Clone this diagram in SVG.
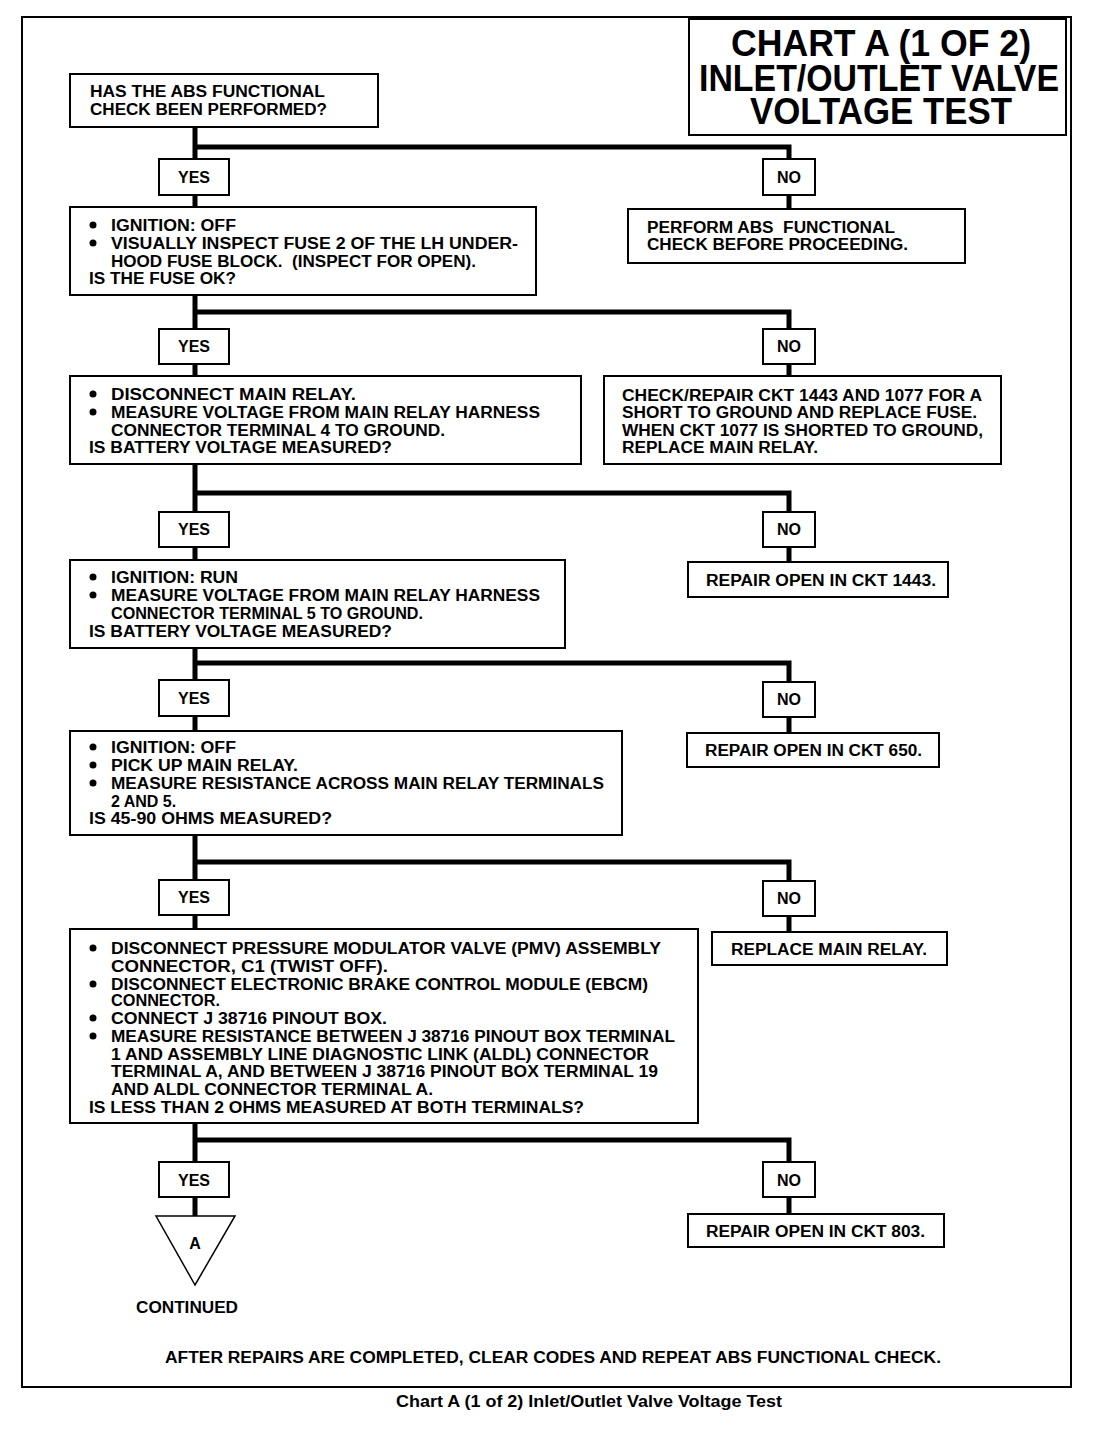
<svg xmlns="http://www.w3.org/2000/svg" width="1104" height="1440" viewBox="0 0 1104 1440">
<style>
.bg{fill:#fff}
.frame{fill:none;stroke:#000;stroke-width:2}
.box{fill:#fff;stroke:#000;stroke-width:2}
.wire{fill:none;stroke:#000;stroke-width:5}
.t{font-family:"Liberation Sans",Arial,sans-serif;font-weight:bold;font-size:16px;fill:#000}
.c{text-anchor:middle}
.title{font-family:"Liberation Sans",Arial,sans-serif;font-weight:bold;font-size:36px;fill:#000;text-anchor:middle}
.dot{fill:#000}
</style>
<rect class="bg" x="0" y="0" width="1104" height="1440"/>
<rect class="frame" x="22" y="17" width="1049" height="1370"/>
<g id="title">
<rect class="box" x="689" y="19" width="377" height="116"/>
<text class="title" x="881" y="56" textLength="300" lengthAdjust="spacingAndGlyphs">CHART A (1 OF 2)</text>
<text class="title" x="879" y="91" textLength="360" lengthAdjust="spacingAndGlyphs">INLET/OUTLET VALVE</text>
<text class="title" x="881" y="124" textLength="262" lengthAdjust="spacingAndGlyphs">VOLTAGE TEST</text>
</g>
<g id="connectors">
<line class="wire" x1="195" y1="127" x2="195" y2="1216"/>
<polyline class="wire" points="195,147 789,147 789,209"/>
<polyline class="wire" points="195,312 789,312 789,376"/>
<polyline class="wire" points="195,493 789,493 789,562"/>
<polyline class="wire" points="195,663 789,663 789,733"/>
<polyline class="wire" points="195,862 789,862 789,932"/>
<polyline class="wire" points="195,1140 789,1140 789,1214"/>
</g>
<g id="q1">
<rect class="box" x="70" y="74" width="308" height="53"/>
<text class="t" x="90" y="97" textLength="235" lengthAdjust="spacingAndGlyphs">HAS THE ABS FUNCTIONAL</text>
<text class="t" x="90" y="115" textLength="237" lengthAdjust="spacingAndGlyphs">CHECK BEEN PERFORMED?</text>
</g>
<g id="yes1"><rect class="box" x="159" y="159" width="70" height="36"/><text class="t c" x="194" y="183">YES</text></g>
<g id="no1"><rect class="box" x="763" y="159" width="52" height="36"/><text class="t c" x="789" y="183">NO</text></g>
<g id="q2">
<rect class="box" x="70" y="207" width="466" height="88"/>
<circle class="dot" cx="93" cy="225" r="3.5"/><circle class="dot" cx="93" cy="243" r="3.5"/>
<text class="t" x="111" y="231" textLength="125" lengthAdjust="spacingAndGlyphs">IGNITION: OFF</text>
<text class="t" x="111" y="249" textLength="407" lengthAdjust="spacingAndGlyphs">VISUALLY INSPECT FUSE 2 OF THE LH UNDER-</text>
<text class="t" x="111" y="267" textLength="365" lengthAdjust="spacingAndGlyphs" xml:space="preserve">HOOD FUSE BLOCK.  (INSPECT FOR OPEN).</text>
<text class="t" x="89" y="284" textLength="147" lengthAdjust="spacingAndGlyphs">IS THE FUSE OK?</text>
</g>
<g id="r1">
<rect class="box" x="628" y="209" width="337" height="54"/>
<text class="t" x="647" y="233" textLength="248" lengthAdjust="spacingAndGlyphs" xml:space="preserve">PERFORM ABS  FUNCTIONAL</text>
<text class="t" x="647" y="250" textLength="261" lengthAdjust="spacingAndGlyphs">CHECK BEFORE PROCEEDING.</text>
</g>
<g id="yes2"><rect class="box" x="159" y="329" width="70" height="35"/><text class="t c" x="194" y="352">YES</text></g>
<g id="no2"><rect class="box" x="763" y="329" width="52" height="35"/><text class="t c" x="789" y="352">NO</text></g>
<g id="q3">
<rect class="box" x="70" y="376" width="511" height="88"/>
<circle class="dot" cx="93" cy="394" r="3.5"/><circle class="dot" cx="93" cy="412" r="3.5"/>
<text class="t" x="111" y="400" textLength="245" lengthAdjust="spacingAndGlyphs">DISCONNECT MAIN RELAY.</text>
<text class="t" x="111" y="418" textLength="429" lengthAdjust="spacingAndGlyphs">MEASURE VOLTAGE FROM MAIN RELAY HARNESS</text>
<text class="t" x="111" y="436" textLength="334" lengthAdjust="spacingAndGlyphs">CONNECTOR TERMINAL 4 TO GROUND.</text>
<text class="t" x="89" y="453" textLength="303" lengthAdjust="spacingAndGlyphs">IS BATTERY VOLTAGE MEASURED?</text>
</g>
<g id="r2">
<rect class="box" x="604" y="376" width="397" height="88"/>
<text class="t" x="622" y="401" textLength="360" lengthAdjust="spacingAndGlyphs">CHECK/REPAIR CKT 1443 AND 1077 FOR A</text>
<text class="t" x="622" y="418" textLength="355" lengthAdjust="spacingAndGlyphs">SHORT TO GROUND AND REPLACE FUSE.</text>
<text class="t" x="622" y="436" textLength="361" lengthAdjust="spacingAndGlyphs">WHEN CKT 1077 IS SHORTED TO GROUND,</text>
<text class="t" x="622" y="453" textLength="196" lengthAdjust="spacingAndGlyphs">REPLACE MAIN RELAY.</text>
</g>
<g id="yes3"><rect class="box" x="159" y="512" width="70" height="35"/><text class="t c" x="194" y="535">YES</text></g>
<g id="no3"><rect class="box" x="763" y="512" width="52" height="35"/><text class="t c" x="789" y="535">NO</text></g>
<g id="q4">
<rect class="box" x="70" y="560" width="495" height="88"/>
<circle class="dot" cx="93" cy="577" r="3.5"/><circle class="dot" cx="93" cy="595" r="3.5"/>
<text class="t" x="111" y="583" textLength="127" lengthAdjust="spacingAndGlyphs">IGNITION: RUN</text>
<text class="t" x="111" y="601" textLength="429" lengthAdjust="spacingAndGlyphs">MEASURE VOLTAGE FROM MAIN RELAY HARNESS</text>
<text class="t" x="111" y="619" textLength="312" lengthAdjust="spacingAndGlyphs">CONNECTOR TERMINAL 5 TO GROUND.</text>
<text class="t" x="89" y="637" textLength="303" lengthAdjust="spacingAndGlyphs">IS BATTERY VOLTAGE MEASURED?</text>
</g>
<g id="r3">
<rect class="box" x="688" y="562" width="260" height="35"/>
<text class="t" x="706" y="586" textLength="230" lengthAdjust="spacingAndGlyphs">REPAIR OPEN IN CKT 1443.</text>
</g>
<g id="yes4"><rect class="box" x="159" y="680" width="70" height="36"/><text class="t c" x="194" y="704">YES</text></g>
<g id="no4"><rect class="box" x="763" y="682" width="52" height="35"/><text class="t c" x="789" y="705">NO</text></g>
<g id="q5">
<rect class="box" x="70" y="731" width="552" height="104"/>
<circle class="dot" cx="93" cy="747" r="3.5"/><circle class="dot" cx="93" cy="765" r="3.5"/><circle class="dot" cx="93" cy="783" r="3.5"/>
<text class="t" x="111" y="753" textLength="125" lengthAdjust="spacingAndGlyphs">IGNITION: OFF</text>
<text class="t" x="111" y="771" textLength="187" lengthAdjust="spacingAndGlyphs">PICK UP MAIN RELAY.</text>
<text class="t" x="111" y="789" textLength="493" lengthAdjust="spacingAndGlyphs">MEASURE RESISTANCE ACROSS MAIN RELAY TERMINALS</text>
<text class="t" x="111" y="807">2 AND 5.</text>
<text class="t" x="89" y="824" textLength="243" lengthAdjust="spacingAndGlyphs">IS 45-90 OHMS MEASURED?</text>
</g>
<g id="r4">
<rect class="box" x="687" y="733" width="252" height="34"/>
<text class="t" x="705" y="756" textLength="217" lengthAdjust="spacingAndGlyphs">REPAIR OPEN IN CKT 650.</text>
</g>
<g id="yes5"><rect class="box" x="159" y="880" width="70" height="35"/><text class="t c" x="194" y="903">YES</text></g>
<g id="no5"><rect class="box" x="763" y="881" width="52" height="35"/><text class="t c" x="789" y="904">NO</text></g>
<g id="q6">
<rect class="box" x="70" y="929" width="628" height="194"/>
<circle class="dot" cx="93" cy="948" r="3.5"/><circle class="dot" cx="93" cy="984" r="3.5"/><circle class="dot" cx="93" cy="1018" r="3.5"/><circle class="dot" cx="93" cy="1036" r="3.5"/>
<text class="t" x="111" y="954" textLength="550" lengthAdjust="spacingAndGlyphs">DISCONNECT PRESSURE MODULATOR VALVE (PMV) ASSEMBLY</text>
<text class="t" x="111" y="972" textLength="277" lengthAdjust="spacingAndGlyphs">CONNECTOR, C1 (TWIST OFF).</text>
<text class="t" x="111" y="990" textLength="537" lengthAdjust="spacingAndGlyphs">DISCONNECT ELECTRONIC BRAKE CONTROL MODULE (EBCM)</text>
<text class="t" x="111" y="1006" textLength="109" lengthAdjust="spacingAndGlyphs">CONNECTOR.</text>
<text class="t" x="111" y="1024" textLength="276" lengthAdjust="spacingAndGlyphs">CONNECT J 38716 PINOUT BOX.</text>
<text class="t" x="111" y="1042" textLength="564" lengthAdjust="spacingAndGlyphs">MEASURE RESISTANCE BETWEEN J 38716 PINOUT BOX TERMINAL</text>
<text class="t" x="111" y="1060" textLength="538" lengthAdjust="spacingAndGlyphs">1 AND ASSEMBLY LINE DIAGNOSTIC LINK (ALDL) CONNECTOR</text>
<text class="t" x="111" y="1077" textLength="547" lengthAdjust="spacingAndGlyphs">TERMINAL A, AND BETWEEN J 38716 PINOUT BOX TERMINAL 19</text>
<text class="t" x="111" y="1095" textLength="322" lengthAdjust="spacingAndGlyphs">AND ALDL CONNECTOR TERMINAL A.</text>
<text class="t" x="89" y="1113" textLength="495" lengthAdjust="spacingAndGlyphs">IS LESS THAN 2 OHMS MEASURED AT BOTH TERMINALS?</text>
</g>
<g id="r5">
<rect class="box" x="712" y="932" width="235" height="33"/>
<text class="t" x="731" y="955" textLength="196" lengthAdjust="spacingAndGlyphs">REPLACE MAIN RELAY.</text>
</g>
<g id="yes6"><rect class="box" x="159" y="1162" width="70" height="35"/><text class="t c" x="194" y="1186">YES</text></g>
<g id="no6"><rect class="box" x="763" y="1162" width="52" height="35"/><text class="t c" x="789" y="1186">NO</text></g>
<g id="r6">
<rect class="box" x="688" y="1214" width="256" height="33"/>
<text class="t" x="706" y="1237" textLength="219" lengthAdjust="spacingAndGlyphs">REPAIR OPEN IN CKT 803.</text>
</g>
<g id="continued">
<polygon points="156,1216 235,1216 195,1285" fill="#fff" stroke="#000" stroke-width="1.5"/>
<text class="t c" x="195" y="1249">A</text>
<text class="t c" x="187" y="1313" textLength="102" lengthAdjust="spacingAndGlyphs">CONTINUED</text>
</g>
<text class="t c" x="553" y="1363" font-size="15" textLength="776" lengthAdjust="spacingAndGlyphs">AFTER REPAIRS ARE COMPLETED, CLEAR CODES AND REPEAT ABS FUNCTIONAL CHECK.</text>
<text class="t c" x="589" y="1407" font-size="14" textLength="386" lengthAdjust="spacingAndGlyphs">Chart A (1 of 2) Inlet/Outlet Valve Voltage Test</text>
</svg>
